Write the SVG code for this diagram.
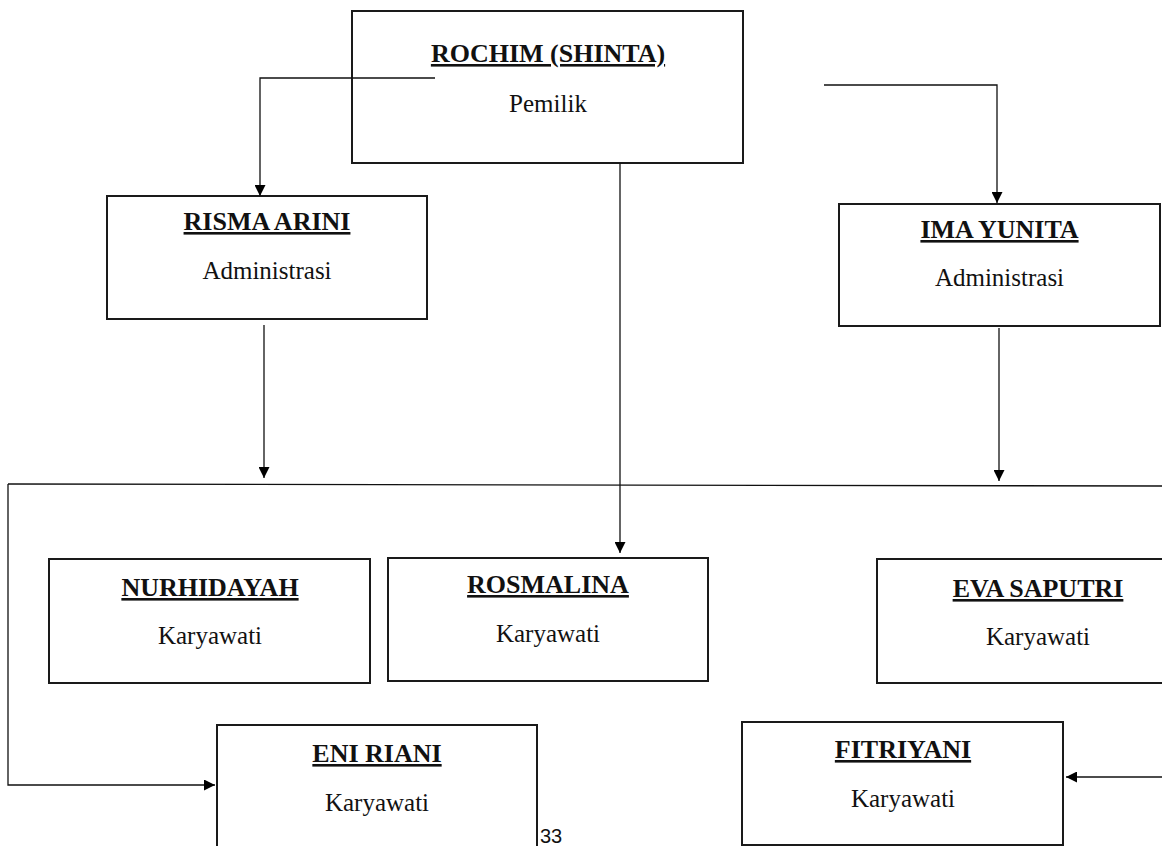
<svg xmlns="http://www.w3.org/2000/svg" width="1162" height="846" viewBox="0 0 1162 846">
<defs>
<marker id="ah" viewBox="0 0 10 10" refX="10" refY="5" markerWidth="12" markerHeight="11" markerUnits="userSpaceOnUse" orient="auto">
<path d="M0,0 L10,5 L0,10 Z" fill="#000"/>
</marker>
<style>
.box{fill:#fff;stroke:#1a1a1a;stroke-width:2}
.t{font-family:"Liberation Serif","Times New Roman",serif;font-size:26px;font-weight:bold;text-anchor:middle;text-decoration:underline;fill:#111}
.s{font-family:"Liberation Serif","Times New Roman",serif;font-size:25px;text-anchor:middle;fill:#111}
.c{fill:none;stroke:#111;stroke-width:1.3}
</style>
</defs>
<rect width="1162" height="846" fill="#fff"/>
<g id="rochim"><rect class="box" x="352" y="11" width="391" height="152"/><text class="t" x="548" y="62">ROCHIM (SHINTA)</text><text class="s" x="548" y="112">Pemilik</text></g>
<g id="risma"><rect class="box" x="107" y="196" width="320" height="123"/><text class="t" x="267" y="230">RISMA ARINI</text><text class="s" x="267" y="279">Administrasi</text></g>
<g id="ima"><rect class="box" x="839" y="204" width="321" height="122"/><text class="t" x="999.5" y="238">IMA YUNITA</text><text class="s" x="999.5" y="286">Administrasi</text></g>
<g id="nurhidayah"><rect class="box" x="49" y="559" width="321" height="124"/><text class="t" x="210" y="596">NURHIDAYAH</text><text class="s" x="210" y="644">Karyawati</text></g>
<g id="rosmalina"><rect class="box" x="388" y="558" width="320" height="123"/><text class="t" x="548" y="593">ROSMALINA</text><text class="s" x="548" y="642">Karyawati</text></g>
<g id="eva"><rect class="box" x="877" y="559" width="322" height="124"/><text class="t" x="1038" y="597">EVA SAPUTRI</text><text class="s" x="1038" y="645">Karyawati</text></g>
<g id="eni"><rect class="box" x="217" y="725" width="320" height="140"/><text class="t" x="377" y="762">ENI RIANI</text><text class="s" x="377" y="811">Karyawati</text></g>
<g id="fitriyani"><rect class="box" x="742" y="722" width="321" height="123"/><text class="t" x="903" y="758">FITRIYANI</text><text class="s" x="903" y="807">Karyawati</text></g>
<text x="540" y="843" font-family="'Liberation Sans',Arial,sans-serif" font-size="20" fill="#111">33</text>
<g id="connectors">
<path class="c" d="M435,78 H260 V196" marker-end="url(#ah)"/>
<path class="c" d="M824,85 H997 V203" marker-end="url(#ah)"/>
<path class="c" d="M620,163 V553" marker-end="url(#ah)"/>
<path class="c" d="M264,325 V478" marker-end="url(#ah)"/>
<path class="c" d="M999,328 V481" marker-end="url(#ah)"/>
<path class="c" d="M8,484 L1162,486"/>
<path class="c" d="M8,484 V785 H215" marker-end="url(#ah)"/>
<path class="c" d="M1162,777 H1066" marker-end="url(#ah)"/>
</g>
</svg>
